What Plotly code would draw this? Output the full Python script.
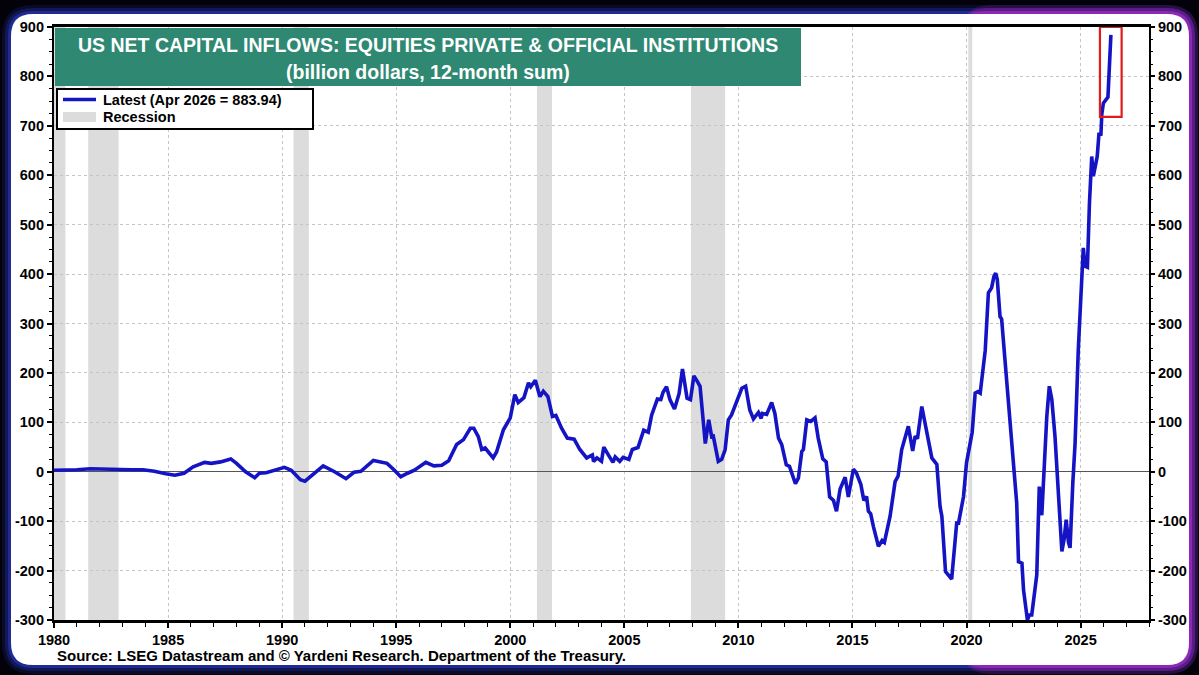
import plotly.graph_objects as go

# ---------------- data ----------------
years = [
    1980.00, 1980.50, 1981.00, 1981.60, 1982.30, 1982.90, 1983.40, 1983.90, 1984.40, 1984.90,
    1985.30, 1985.70, 1986.10, 1986.60, 1986.90, 1987.30, 1987.75, 1988.00, 1988.40, 1988.80,
    1989.00, 1989.30, 1989.80, 1990.10, 1990.40, 1990.80, 1991.00, 1991.40, 1991.80, 1992.30,
    1992.80, 1993.15, 1993.45, 1994.00, 1994.60, 1994.90, 1995.20, 1995.50, 1995.80, 1996.30,
    1996.65, 1997.00, 1997.30, 1997.65, 1997.95, 1998.25, 1998.40, 1998.60, 1998.75, 1998.90,
    1999.25, 1999.40, 1999.70, 2000.00, 2000.20, 2000.35, 2000.60, 2000.80, 2000.90, 2001.10,
    2001.30, 2001.45, 2001.65, 2001.85, 2002.00, 2002.25, 2002.50, 2002.80, 2003.05, 2003.35,
    2003.60, 2003.65, 2003.80, 2004.00, 2004.10, 2004.30, 2004.50, 2004.60, 2004.80, 2004.95,
    2005.20, 2005.35, 2005.60, 2005.85, 2006.05, 2006.20, 2006.45, 2006.60, 2006.70, 2006.85,
    2007.00, 2007.20, 2007.40, 2007.55, 2007.75, 2007.90, 2008.05, 2008.20, 2008.32, 2008.55,
    2008.70, 2008.83, 2008.90, 2009.12, 2009.27, 2009.42, 2009.56, 2009.70, 2009.90, 2010.15,
    2010.32, 2010.50, 2010.66, 2010.88, 2011.00, 2011.05, 2011.24, 2011.46, 2011.60, 2011.76,
    2011.90, 2012.10, 2012.24, 2012.50, 2012.63, 2012.78, 2012.85, 2013.00, 2013.17, 2013.36,
    2013.50, 2013.70, 2013.85, 2014.00, 2014.17, 2014.30, 2014.46, 2014.68, 2014.82, 2015.04,
    2015.17, 2015.37, 2015.50, 2015.62, 2015.70, 2015.80, 2015.92, 2016.14, 2016.30, 2016.40,
    2016.65, 2016.87, 2017.00, 2017.16, 2017.45, 2017.64, 2017.75, 2017.85, 2018.04, 2018.26,
    2018.48, 2018.70, 2018.84, 2018.92, 2019.08, 2019.35, 2019.57, 2019.65, 2019.87, 2020.00,
    2020.16, 2020.25, 2020.38, 2020.50, 2020.60, 2020.72, 2020.82, 2020.96, 2021.10, 2021.20,
    2021.28, 2021.35, 2021.47, 2021.54, 2021.66, 2021.84, 2021.99, 2022.09, 2022.20, 2022.28,
    2022.43, 2022.50, 2022.61, 2022.67, 2022.75, 2022.86, 2023.08, 2023.19, 2023.30, 2023.52,
    2023.63, 2023.74, 2023.88, 2023.99, 2024.10, 2024.18, 2024.28, 2024.37, 2024.47, 2024.54,
    2024.66, 2024.76, 2024.90, 2025.06, 2025.12, 2025.20, 2025.30, 2025.39, 2025.49, 2025.56,
    2025.68, 2025.73, 2025.81, 2025.89, 2025.93, 2026.00, 2026.20, 2026.33,
]
values = [
    3, 3, 4, 6, 5, 3, 4, 4, 1, -4,
    -7, -3, 10, 19, 17, 20, 26, 17, 0, -12,
    -3, -2, 6, 9, 3, -16, -19, -3, 12, 0,
    -14, -1, 1, 23, 17, 4, -10, -3, 3, 19,
    12, 13, 22, 55, 65, 88, 88, 71, 45, 48,
    28, 40, 85, 109, 156, 140, 150, 180, 172, 185,
    152, 163, 152, 112, 114, 88, 68, 66, 45, 28,
    34, 21, 28, 21, 50, 34, 19, 30, 21, 29,
    25, 45, 49, 84, 80, 115, 147, 146, 161, 172,
    146, 127, 158, 208, 149, 146, 194, 183, 173, 57,
    105, 71, 72, 21, 25, 45, 105, 115, 139, 169,
    173, 125, 107, 120, 108, 118, 116, 140, 118, 68,
    55, 14, 11, -24, -13, 41, 45, 105, 102, 109,
    68, 26, 20, -51, -58, -80, -35, -11, -51, 5,
    -2, -26, -58, -50, -80, -85, -111, -151, -139, -143,
    -90, -20, -9, 45, 92, 42, 72, 67, 132, 82,
    28, 15, -70, -90, -202, -217, -104, -104, -50, 18,
    65, 80, 159, 162, 159, 211, 245, 362, 372, 395,
    402, 389, 314, 309, 240, 139, 45, -9, -63, -182,
    -185, -239, -279, -300, -290, -290, -209, -30, -88, 112,
    173, 146, 71, -9, -111, -161, -136, -97, -143, -154,
    -23, 58, 247, 395, 453, 416, 414, 544, 638, 598,
    632, 638, 686, 680, 723, 746, 758, 883.94,
]

recession_starts = [1980.00, 1981.50, 1990.50, 2001.17, 2007.92, 2020.08]
recession_ends = [1980.50, 1982.83, 1991.17, 2001.83, 2009.42, 2020.25]

x_tick_years = [1980, 1985, 1990, 1995, 2000, 2005, 2010, 2015, 2020, 2025]
x_tick_labels = ["1980", "1985", "1990", "1995", "2000", "2005", "2010", "2015", "2020", "2025"]
y_ticks = [-300, -200, -100, 0, 100, 200, 300, 400, 500, 600, 700, 800, 900]
y_tick_labels = ["-300", "-200", "-100", "0", "100", "200", "300", "400", "500", "600", "700", "800", "900"]

highlight_x = [2025.85, 2026.80]
highlight_y = [718, 900]

title_line1 = "US NET CAPITAL INFLOWS: EQUITIES PRIVATE & OFFICIAL INSTITUTIONS"
title_line2 = "(billion dollars, 12-month sum)"
legend_latest = "Latest (Apr 2026 = 883.94)"
legend_recession = "Recession"
source_text = "Source: LSEG Datastream and \u00a9 Yardeni Research. Department of the Treasury."

# ---------------- layout geometry (pixels) ----------------
W, H = 1199, 675
PL, PR, PT, PB = 54, 1149, 27, 620


def px(x):
    return (x - PL) / (PR - PL)


def py(y):
    return (PB - y) / (PB - PT)


def rrect(x0, y0, x1, y1, r):
    pts = [
        ("M", (x0 + r, y0)), ("L", (x1 - r, y0)), ("Q", (x1, y0), (x1, y0 + r)),
        ("L", (x1, y1 - r)), ("Q", (x1, y1), (x1 - r, y1)), ("L", (x0 + r, y1)),
        ("Q", (x0, y1), (x0, y1 - r)), ("L", (x0, y0 + r)), ("Q", (x0, y0), (x0 + r, y0)),
    ]
    s = ""
    for cmd, *ps in pts:
        s += cmd + " " + " ".join(f"{px(a):.5f},{py(b):.5f}" for a, b in ps) + " "
    return s + "Z"


FONT = "Liberation Sans, Arial, sans-serif"
BLUE = "#1414c4"

fig = go.Figure()
fig.add_trace(go.Scatter(
    x=years, y=values, mode="lines",
    line=dict(color=BLUE, width=3.6),
    showlegend=False, hoverinfo="x+y",
))
# invisible trace so that the right-hand axis is drawn
fig.add_trace(go.Scatter(
    x=[years[0]], y=[values[0]], yaxis="y2", mode="markers",
    marker=dict(opacity=0), showlegend=False, hoverinfo="skip",
))

shapes = []
# glow around the card
for pad, op in [(9, 0.15), (6, 0.25), (3, 0.45)]:
    shapes.append(dict(type="path", xref="paper", yref="paper", layer="below",
                       path=rrect(11 - pad, 14 - pad, 1189 + pad, 665 + pad, 22 + pad),
                       fillcolor="#3040e0", opacity=op, line=dict(width=0)))
for pad, op in [(9, 0.18), (6, 0.3), (3, 0.5)]:
    shapes.append(dict(type="path", xref="paper", yref="paper", layer="below",
                       path=rrect(960, 14 - pad, 1189 + pad, 665 + pad, 22 + pad),
                       fillcolor="#b828c8", opacity=op, line=dict(width=0)))
# white card
shapes.append(dict(type="path", xref="paper", yref="paper", layer="below",
                   path=rrect(11, 14, 1189, 665, 22),
                   fillcolor="white", line=dict(width=0)))
# recession shading
for s, e in zip(recession_starts, recession_ends):
    shapes.append(dict(type="rect", xref="x", yref="paper", x0=s, x1=e, y0=0, y1=1,
                       fillcolor="#dcdcdc", line=dict(width=0), layer="below"))
# red highlight box
shapes.append(dict(type="rect", xref="x", yref="y",
                   x0=highlight_x[0], x1=highlight_x[1], y0=highlight_y[0], y1=highlight_y[1],
                   line=dict(color="#e01b1b", width=2.2), fillcolor="rgba(0,0,0,0)", layer="above"))
# title box
shapes.append(dict(type="rect", xref="paper", yref="paper",
                   x0=px(55), x1=px(801), y0=py(28), y1=py(86),
                   fillcolor="#2e8872", line=dict(width=0), layer="above"))
# legend box
shapes.append(dict(type="rect", xref="paper", yref="paper",
                   x0=px(57), x1=px(313), y0=py(89), y1=py(129),
                   fillcolor="white", line=dict(color="black", width=2), layer="above"))
shapes.append(dict(type="line", xref="paper", yref="paper",
                   x0=px(63), x1=px(96), y0=py(99.5), y1=py(99.5),
                   line=dict(color=BLUE, width=3.5), layer="above"))
shapes.append(dict(type="rect", xref="paper", yref="paper",
                   x0=px(63), x1=px(96), y0=py(112), y1=py(122),
                   fillcolor="#dcdcdc", line=dict(width=0), layer="above"))

annotations = [
    dict(text=title_line1, xref="paper", yref="paper", x=px(428), y=py(45),
         xanchor="center", yanchor="middle", showarrow=False,
         font=dict(family=FONT, size=19.5, color="white", weight="bold")),
    dict(text=title_line2, xref="paper", yref="paper", x=px(428), y=py(72),
         xanchor="center", yanchor="middle", showarrow=False,
         font=dict(family=FONT, size=19.5, color="white", weight="bold")),
    dict(text=legend_latest, xref="paper", yref="paper", x=px(101), y=py(100),
         xanchor="left", yanchor="middle", showarrow=False,
         font=dict(family=FONT, size=14.5, color="black", weight="bold")),
    dict(text=legend_recession, xref="paper", yref="paper", x=px(101), y=py(117),
         xanchor="left", yanchor="middle", showarrow=False,
         font=dict(family=FONT, size=14.5, color="black", weight="bold")),
    dict(text=source_text, xref="paper", yref="paper", x=px(55), y=py(655),
         xanchor="left", yanchor="middle", showarrow=False,
         font=dict(family=FONT, size=15, color="black", weight="bold")),
]

tickfont = dict(family=FONT, size=14.5, color="black", weight="bold")

fig.update_layout(
    width=W, height=H,
    margin=dict(l=PL, r=W - PR, t=PT, b=H - PB, pad=0),
    paper_bgcolor="#03020a",
    plot_bgcolor="rgba(0,0,0,0)",
    showlegend=False,
    shapes=shapes,
    annotations=annotations,
    xaxis=dict(
        range=[1980, 2028], tickmode="array", tickvals=x_tick_years, ticktext=x_tick_labels,
        ticks="outside", ticklen=5, tickwidth=1.5, tickcolor="black",
        showline=True, linewidth=2.5, linecolor="black", mirror=True,
        showgrid=True, gridcolor="#c4c4c4", griddash="dot", gridwidth=1,
        zeroline=False, tickfont=tickfont,
        minor=dict(tickmode="linear", tick0=1980, dtick=1, ticks="outside",
                   ticklen=4, tickcolor="black", tickwidth=1, showgrid=False),
    ),
    yaxis=dict(
        range=[-300, 900], tickmode="array", tickvals=y_ticks, ticktext=y_tick_labels,
        ticks="outside", ticklen=5, tickwidth=1.5, tickcolor="black",
        showline=True, linewidth=2.2, linecolor="black", mirror=True,
        showgrid=True, gridcolor="#c4c4c4", griddash="dot", gridwidth=1,
        zeroline=True, zerolinecolor="#555555", zerolinewidth=1.2,
        tickfont=tickfont,
        minor=dict(tickmode="linear", tick0=0, dtick=25, ticks="outside",
                   ticklen=3, tickcolor="black", tickwidth=1, showgrid=False),
    ),
    yaxis2=dict(
        overlaying="y", side="right", range=[-300, 900],
        tickmode="array", tickvals=y_ticks, ticktext=y_tick_labels,
        ticks="outside", ticklen=5, tickwidth=1.5, tickcolor="black",
        showline=False, showgrid=False, zeroline=False, tickfont=tickfont,
        minor=dict(tickmode="linear", tick0=0, dtick=25, ticks="outside",
                   ticklen=3, tickcolor="black", tickwidth=1, showgrid=False),
    ),
)

fig.write_html("out.html")
